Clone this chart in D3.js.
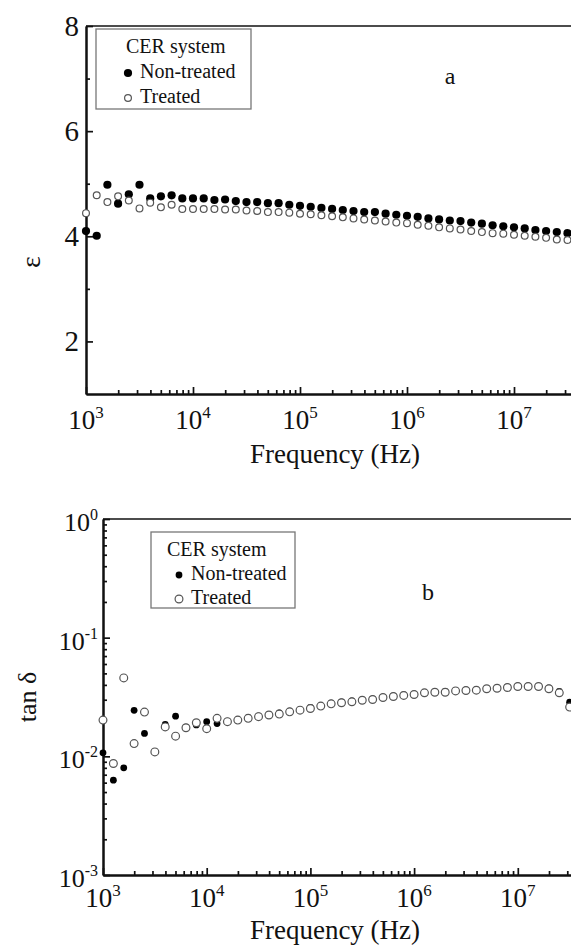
<!DOCTYPE html>
<html lang="en">
<head>
<meta charset="utf-8">
<title>CER system - dielectric constant and loss tangent</title>
<script src="https://d3js.org/d3.v7.min.js"></script>
<style type="text/css">
  body { margin: 0; background: #fff; }
  svg { display: block; }
  text { font-family: "Liberation Serif", "Times New Roman", serif; fill: #111; }
</style>
</head>
<body>
<script type="text/javascript">

// frequencies (Hz), 10 points per decade
var freq = [
  1.000e3, 1.259e3, 1.585e3, 1.995e3, 2.512e3, 3.162e3, 3.981e3, 5.012e3, 6.310e3, 7.943e3,
  1.000e4, 1.259e4, 1.585e4, 1.995e4, 2.512e4, 3.162e4, 3.981e4, 5.012e4, 6.310e4, 7.943e4,
  1.000e5, 1.259e5, 1.585e5, 1.995e5, 2.512e5, 3.162e5, 3.981e5, 5.012e5, 6.310e5, 7.943e5,
  1.000e6, 1.259e6, 1.585e6, 1.995e6, 2.512e6, 3.162e6, 3.981e6, 5.012e6, 6.310e6, 7.943e6,
  1.000e7, 1.259e7, 1.585e7, 1.995e7, 2.512e7, 3.162e7
];

// panel a: permittivity
var epsNonTreated = [
  4.10, 4.01, 4.98, 4.62, 4.80, 4.98, 4.72, 4.76, 4.78, 4.72,
  4.72, 4.72, 4.69, 4.70, 4.67, 4.65, 4.65, 4.63, 4.63, 4.60,
  4.58, 4.56, 4.54, 4.52, 4.50, 4.48, 4.46, 4.46, 4.43, 4.41,
  4.39, 4.37, 4.34, 4.32, 4.30, 4.29, 4.26, 4.24, 4.21, 4.19,
  4.17, 4.15, 4.12, 4.10, 4.08, 4.06
];
var epsTreated = [
  4.44, 4.78, 4.65, 4.76, 4.68, 4.53, 4.64, 4.55, 4.60, 4.52,
  4.52, 4.52, 4.52, 4.51, 4.51, 4.49, 4.48, 4.46, 4.46, 4.45,
  4.43, 4.42, 4.40, 4.38, 4.36, 4.34, 4.32, 4.30, 4.28, 4.26,
  4.25, 4.22, 4.20, 4.17, 4.15, 4.13, 4.10, 4.08, 4.06, 4.05,
  4.03, 4.01, 3.99, 3.97, 3.94, 3.93
];

// panel b: loss tangent
var tanNonTreated = [
  0.0107, 0.0063, 0.0080, 0.0244, 0.0156, 0.0110, 0.0186, 0.0218, 0.0176, 0.0184,
  0.0196, 0.0189, 0.0198, 0.0204, 0.0213, 0.0219, 0.0226, 0.0232, 0.0240, 0.0248,
  0.0258, 0.0268, 0.0280, 0.0287, 0.0293, 0.0300, 0.0305, 0.0316, 0.0323, 0.0331,
  0.0336, 0.0346, 0.0351, 0.0352, 0.0360, 0.0363, 0.0365, 0.0374, 0.0379, 0.0384,
  0.0392, 0.0392, 0.0391, 0.0377, 0.0352, 0.0286
];
var tanTreated = [
  0.0202, 0.0087, 0.0458, 0.0128, 0.0236, 0.0109, 0.0177, 0.0148, 0.0174, 0.0192,
  0.0171, 0.0209, 0.0196, 0.0202, 0.0209, 0.0216, 0.0223, 0.0227, 0.0237, 0.0245,
  0.0253, 0.0265, 0.0277, 0.0283, 0.0288, 0.0297, 0.0301, 0.0313, 0.0319, 0.0326,
  0.0332, 0.0343, 0.0347, 0.0347, 0.0356, 0.0359, 0.0361, 0.0371, 0.0375, 0.0380,
  0.0388, 0.0388, 0.0388, 0.0371, 0.0343, 0.0260
];

var xMajor = [1e3, 1e4, 1e5, 1e6, 1e7];
var xMajorExp = ["3", "4", "5", "6", "7"];
var xMinor = [];
xMajor.forEach(function (d) {
  for (var m = 2; m <= 9; m++) xMinor.push(d * m);
});
var epsMajor = [2, 4, 6, 8];
var epsMinor = [3, 5, 7];
var tanMajor = [1e-3, 1e-2, 1e-1, 1];
var tanMajorExp = ["-3", "-2", "-1", "0"];
var tanMinor = [];
[1e-3, 1e-2, 1e-1].forEach(function (d) {
  for (var m = 2; m <= 9; m++) tanMinor.push(d * m);
});
var legendTitle = "CER system";
var seriesNames = ["Non-treated", "Treated"];

var w = 571;
var h = 952;

var svg = d3.select("body")
  .append("svg")
  .attr("width", w)
  .attr("height", h);

function styleAxis(g) {
  g.selectAll("path, line").attr("stroke", "#111").attr("stroke-width", 1.7);
  g.select(".domain").attr("stroke-width", 2);
}

function powText(sel, base, exp, supSize, supDy) {
  sel.append("tspan").text(base);
  sel.append("tspan").attr("font-size", supSize).attr("dy", supDy).text(exp);
}

function drawXAxis(x, y0, labelY, titleY) {
  svg.append("g")
    .attr("transform", "translate(0," + y0 + ")")
    .call(d3.axisBottom(x).tickValues(xMajor).tickSize(-7).tickSizeOuter(0).tickFormat(""))
    .call(styleAxis);
  svg.append("g")
    .attr("transform", "translate(0," + y0 + ")")
    .call(d3.axisBottom(x).tickValues(xMinor).tickSize(-4).tickSizeOuter(0).tickFormat(""))
    .call(styleAxis);

  svg.selectAll(null)
    .data(xMajor)
    .enter()
    .append("text")
    .attr("x", function (d) { return x(d); })
    .attr("y", labelY)
    .attr("text-anchor", "middle")
    .attr("font-size", 27)
    .each(function (d, i) {
      powText(d3.select(this), "10", xMajorExp[i], 17, -11);
    });

  svg.append("text")
    .attr("x", 335)
    .attr("y", titleY)
    .attr("text-anchor", "middle")
    .attr("font-size", 27)
    .text("Frequency (Hz)");
}

function drawLegend(x0, y0, bw, bh, rows, mk) {
  svg.append("rect")
    .attr("x", x0).attr("y", y0)
    .attr("width", bw).attr("height", bh)
    .attr("fill", "#fff")
    .attr("stroke", "#777")
    .attr("stroke-width", 1.3);
  svg.append("text")
    .attr("x", rows.titleX).attr("y", rows.y[0])
    .attr("font-size", 20)
    .text(legendTitle);
  seriesNames.forEach(function (name, i) {
    svg.append("text")
      .attr("x", rows.textX).attr("y", rows.y[i + 1])
      .attr("font-size", 20)
      .text(name);
    var c = svg.append("circle")
      .attr("cx", rows.markX)
      .attr("cy", rows.y[i + 1] - 5);
    if (i === 0) {
      c.attr("r", mk.rf).attr("fill", "#000");
    } else {
      c.attr("r", mk.ro).attr("fill", "#fff").attr("stroke", "#555").attr("stroke-width", 1.2);
    }
  });
}

function drawPoints(x, y, vals, filled, r) {
  svg.append("g")
    .selectAll("circle")
    .data(vals)
    .enter()
    .append("circle")
    .attr("cx", function (d, i) { return x(freq[i]); })
    .attr("cy", function (d) { return y(d); })
    .attr("r", r)
    .attr("fill", filled ? "#000" : "#fff")
    .attr("stroke", filled ? "none" : "#555")
    .attr("stroke-width", filled ? 0 : 1.2);
}

// ---------- panel a ----------
var xA = d3.scaleLog().domain([1e3, 1e8]).range([86, 621]);
var yA = d3.scaleLinear().domain([1, 8]).range([394, 26]);

svg.append("line")
  .attr("x1", 86).attr("x2", w)
  .attr("y1", yA(8)).attr("y2", yA(8))
  .attr("stroke", "#111").attr("stroke-width", 1.7);

svg.append("g")
  .attr("transform", "translate(86,0)")
  .call(d3.axisLeft(yA).tickValues(epsMajor).tickSize(-7).tickPadding(7).tickSizeOuter(0).tickFormat(d3.format("d")))
  .call(styleAxis)
  .call(function (g) {
    g.attr("font-family", null);
    g.selectAll("text").attr("font-size", 29).attr("fill", "#111");
  });
svg.append("g")
  .attr("transform", "translate(86,0)")
  .call(d3.axisLeft(yA).tickValues(epsMinor).tickSize(-4).tickSizeOuter(0).tickFormat(""))
  .call(styleAxis);

drawXAxis(xA, 394, 429, 463);

svg.append("text")
  .attr("transform", "translate(40,262) rotate(-90)")
  .attr("text-anchor", "middle")
  .attr("font-size", 28)
  .text("ε");

drawPoints(xA, yA, epsNonTreated, true, 4.1);
drawPoints(xA, yA, epsTreated, false, 3.4);

drawLegend(96, 29, 155, 80, { titleX: 126, textX: 140, markX: 128, y: [53, 78, 103] }, { rf: 4.1, ro: 3.4 });

svg.append("text")
  .attr("x", 450).attr("y", 84)
  .attr("text-anchor", "middle")
  .attr("font-size", 24)
  .text("a");

// ---------- panel b ----------
var xB = d3.scaleLog().domain([1e3, 1e8]).range([103, 621.5]);
var yB = d3.scaleLog().domain([1e-3, 1]).range([875, 519]);

svg.append("line")
  .attr("x1", 103).attr("x2", w)
  .attr("y1", yB(1)).attr("y2", yB(1))
  .attr("stroke", "#111").attr("stroke-width", 1.7);

svg.append("g")
  .attr("transform", "translate(103,0)")
  .call(d3.axisLeft(yB).tickValues(tanMajor).tickSize(-7).tickSizeOuter(0).tickFormat(""))
  .call(styleAxis);
svg.append("g")
  .attr("transform", "translate(103,0)")
  .call(d3.axisLeft(yB).tickValues(tanMinor).tickSize(-4).tickSizeOuter(0).tickFormat(""))
  .call(styleAxis);

svg.selectAll(null)
  .data(tanMajor)
  .enter()
  .append("text")
  .attr("x", 98)
  .attr("y", function (d) { return yB(d) + 12; })
  .attr("text-anchor", "end")
  .attr("font-size", 26)
  .each(function (d, i) {
    powText(d3.select(this), "10", tanMajorExp[i], 16, -11);
  });

drawXAxis(xB, 875, 907, 939);

svg.append("text")
  .attr("transform", "translate(36,697) rotate(-90)")
  .attr("text-anchor", "middle")
  .attr("font-size", 26)
  .text("tan δ");

drawPoints(xB, yB, tanNonTreated, true, 3.4);
drawPoints(xB, yB, tanTreated, false, 3.9);

drawLegend(151, 532, 144, 76, { titleX: 167, textX: 191, markX: 179, y: [556, 580, 604] }, { rf: 3.4, ro: 3.9 });

svg.append("text")
  .attr("x", 428).attr("y", 600)
  .attr("text-anchor", "middle")
  .attr("font-size", 24)
  .text("b");

</script>
</body>
</html>
